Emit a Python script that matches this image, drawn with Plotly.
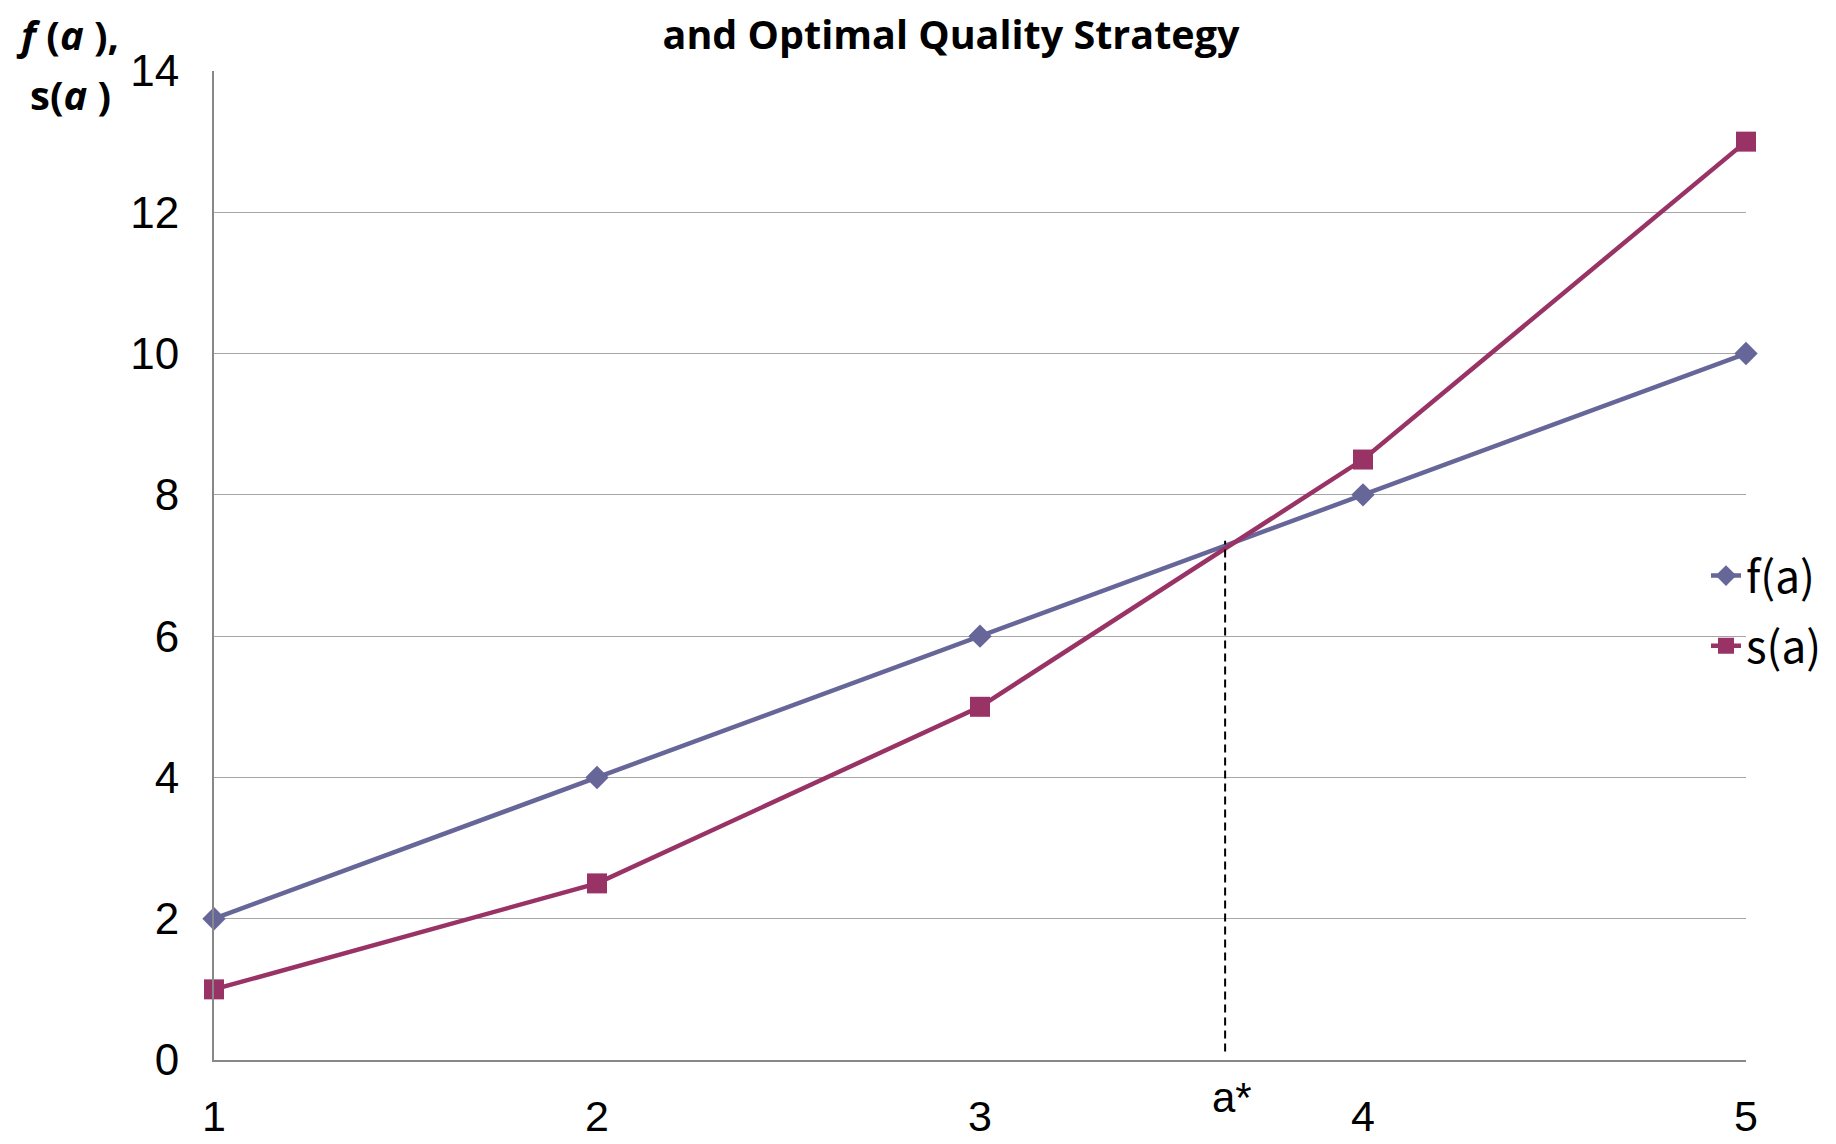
import plotly.graph_objects as go

a_vals = [1, 2, 3, 4, 5]
f_vals = [2, 4, 6, 8, 10]
s_vals = [1, 2.5, 5, 8.5, 13]
y_ticks = [0, 2, 4, 6, 8, 10, 12, 14]
a_star = 3.64
a_star_y = 7.35

F_COLOR = "#666699"
S_COLOR = "#993366"
TICK_FONT = "Liberation Sans, Arial, sans-serif"
LABEL_FONT = "Open Sans, sans-serif"

OFF = 8  # page body margin
W, H = 1820, 1136
L, T = 214 - OFF, 71 - OFF
PW, PH = 1532, 989
R, B = W - L - PW, H - T - PH


def px_x(page_x):
    return (page_x - OFF - L) / PW


def px_y(page_y):
    return (T + PH - (page_y - OFF)) / PH


fig = go.Figure()
fig.add_trace(go.Scatter(
    x=a_vals, y=f_vals, mode="lines+markers", name="f(a)",
    line=dict(color=F_COLOR, width=4.5),
    marker=dict(symbol="diamond", size=18, color=F_COLOR),
    cliponaxis=False, legendgroup="f",
))
fig.add_trace(go.Scatter(
    x=a_vals, y=s_vals, mode="lines+markers", name="s(a)",
    line=dict(color=S_COLOR, width=4.5),
    marker=dict(symbol="square", size=20, color=S_COLOR),
    cliponaxis=False, legendgroup="s",
))

# dashed marker line for a*
fig.add_shape(type="line", xref="x", yref="y", x0=a_star, x1=a_star, y0=0.12, y1=a_star_y,
              line=dict(color="black", width=2, dash="8px,5px"))
# white legend backdrop covering gridline
fig.add_shape(type="rect", xref="paper", yref="paper", x0=px_x(1595), x1=px_x(1840),
              y0=px_y(700), y1=px_y(512),
              fillcolor="white", line=dict(width=0), layer="between")

fig.add_annotation(x=a_star, y=0, xref="x", yref="y", text="a*", showarrow=False,
                   xanchor="center", yanchor="top", xshift=7, yshift=-12,
                   font=dict(family=TICK_FONT, size=42, color="black"))
fig.add_annotation(x=px_x(67), y=px_y(35), xref="paper", yref="paper",
                   xanchor="center", yanchor="middle", showarrow=False,
                   text="<b><i>f</i> (<i>a</i> ),</b>",
                   font=dict(family=LABEL_FONT, size=40, color="black"))
fig.add_annotation(x=px_x(70), y=px_y(94), xref="paper", yref="paper",
                   xanchor="center", yanchor="middle", showarrow=False,
                   text="<b>s(<i>a</i> )</b>",
                   font=dict(family=LABEL_FONT, size=40, color="black"))

fig.update_layout(
    width=W, height=H,
    margin=dict(l=L, r=R, t=T, b=B, autoexpand=False),
    paper_bgcolor="white", plot_bgcolor="white",
    title=dict(text="<b>and Optimal Quality Strategy</b>", x=(951 - OFF) / W, xanchor="center",
               y=1 - (35 - OFF) / H, yanchor="middle",
               font=dict(family=LABEL_FONT, size=39.5, color="black")),
    legend=dict(x=1698 / W, xref="container", y=1 - 603 / H, yref="container",
                xanchor="left", yanchor="middle", bgcolor="rgba(0,0,0,0)",
                font=dict(family="Noto Sans CJK JP, sans-serif", size=44, color="black"),
                traceorder="grouped", tracegroupgap=10),
    xaxis=dict(range=[1, 5], tickvals=a_vals, ticktext=[str(v) for v in a_vals],
               showgrid=False, zeroline=False, showline=True, linecolor="#888888", linewidth=2,
               ticks="", ticklabelstandoff=17, automargin=False,
               tickfont=dict(family=TICK_FONT, size=43, color="black")),
    yaxis=dict(range=[0, 14], tickvals=y_ticks, showgrid=True, gridcolor="#a6a6a6", gridwidth=1,
               zeroline=False, showline=True, linecolor="#888888", linewidth=2,
               ticks="", ticklabelstandoff=24, automargin=False,
               tickfont=dict(family=TICK_FONT, size=44, color="black")),
)

fig.write_html("out.html")
